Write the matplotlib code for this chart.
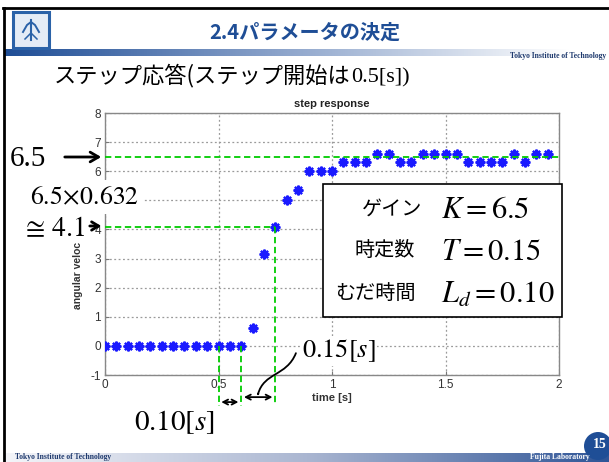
import numpy as np
import matplotlib.pyplot as plt
from matplotlib.colors import LinearSegmentedColormap
from matplotlib.patches import Rectangle, Circle, FancyArrowPatch
from matplotlib.path import Path

plt.rcParams['mathtext.fontset'] = 'stix'
plt.rcParams['axes.unicode_minus'] = False

JP = 'Noto Sans CJK JP'
SERIF = 'Liberation Serif'
SANS = 'Liberation Sans'
NAVY = '#1f4e96'

# measured step response (sampled every 0.05 s)
t_sec = [0.00, 0.05, 0.10, 0.15, 0.20, 0.25, 0.30, 0.35, 0.40, 0.45,
         0.50, 0.55, 0.60, 0.65, 0.70, 0.75, 0.80, 0.85, 0.90, 0.95,
         1.00, 1.05, 1.10, 1.15, 1.20, 1.25, 1.30, 1.35, 1.40, 1.45,
         1.50, 1.55, 1.60, 1.65, 1.70, 1.75, 1.80, 1.85, 1.90, 1.95]
omega = [0.0, 0.0, 0.0, 0.0, 0.0, 0.0, 0.0, 0.0, 0.0, 0.0,
         0.0, 0.0, 0.0, 0.6, 3.15, 4.1, 5.0, 5.35, 6.0, 6.0,
         6.0, 6.3, 6.3, 6.3, 6.6, 6.6, 6.3, 6.3, 6.6, 6.6,
         6.6, 6.6, 6.3, 6.3, 6.3, 6.3, 6.6, 6.3, 6.6, 6.6]

gain_K = 6.5
time_T = 0.15
dead_L = 0.10
step_t = 0.5
y63 = 4.1

x_ticks = [0, 0.5, 1, 1.5, 2]
x_ticklabels = ['0', '0.5', '1', '1.5', '2']
y_ticks = [-1, 0, 1, 2, 3, 4, 5, 6, 7, 8]

W, H = 609, 462
fig = plt.figure(figsize=(W / 100, H / 100), dpi=100)

# slide background, pixel coordinates
bg = fig.add_axes([0, 0, 1, 1], zorder=-1)
bg.axis('off')

bg.plot([3, W], [8, 8], color='black', lw=2)
bg.plot([4, 4], [8, H], color='black', lw=2)

# title / footer gradient bars
grad = np.linspace(0, 1, 256)
top_cmap = LinearSegmentedColormap.from_list('top', [NAVY, '#8fa6cc', 'white'])
bg.imshow(grad[np.newaxis, :], cmap=top_cmap, aspect='auto', extent=(5, 570, 56.5, 50))
bot_cmap = LinearSegmentedColormap.from_list('bot', ['#f4f5f9', '#aab6d1', '#2f5597'])
bg.imshow(grad[np.newaxis, :], cmap=bot_cmap, aspect='auto', extent=(6, W, H, 453))
bg.set_xlim(0, W)
bg.set_ylim(H, 0)

# logo
bg.add_patch(Rectangle((13, 12), 36, 36, facecolor='#e4ecf6', edgecolor='#2a62a8', lw=2.2))
bg.plot([31, 31], [20, 40], color='#2a62a8', lw=1.5)
bg.plot([23, 27, 31, 35, 39], [32, 25, 22, 25, 32], color='#2a62a8', lw=1.4)
bg.plot([25, 31, 37], [39, 33, 39], color='#2a62a8', lw=1.1)

bg.text(305, 32, '2.4パラメータの決定', family=[JP], fontsize=14.5, fontweight='bold',
        color=NAVY, ha='center', va='center')
bg.text(606, 56, 'Tokyo Institute of Technology', family=[SERIF], fontsize=5.5,
        fontweight='bold', color='#1f3a6e', ha='right', va='center')
bg.text(15, 457, 'Tokyo Institute of Technology', family=[SERIF], fontsize=5.5,
        fontweight='bold', color='#1f3a6e', ha='left', va='center')
bg.text(590, 457, 'Fujita Laboratory', family=[SERIF], fontsize=5.5,
        fontweight='bold', color='white', ha='right', va='center')
bg.add_patch(Circle((598, 446), 14, facecolor=NAVY, edgecolor='none'))
bg.text(600, 444, '15', family=[SERIF], fontsize=10, fontweight='bold',
        color='white', ha='center', va='center')

# step response plot
ax = fig.add_axes([105 / W, 87 / H, 454 / W, 262 / H])
ax.plot(t_sec, omega, linestyle='none', marker=(8, 2, 0), markersize=7,
        markeredgewidth=1.6, color='#1a1aff', zorder=3)
ax.set_xlim(0, 2)
ax.set_ylim(-1, 8)
ax.set_xticks(x_ticks)
ax.set_xticklabels(x_ticklabels)
ax.set_yticks(y_ticks)
ax.grid(True, linestyle=(0, (1.5, 2)), color='#9a9a9a', lw=0.9)
ax.tick_params(direction='in', length=3, color='#777777', labelsize=8.5,
               labelcolor='#333333', pad=3)
for lab in ax.get_xticklabels() + ax.get_yticklabels():
    lab.set_family(SANS)
for sp in ax.spines.values():
    sp.set_color('#888888')
    sp.set_linewidth(1.0)
ax.set_title('step response', family=[SANS], fontsize=8, fontweight='bold',
             color='#222222', pad=4)
ax.set_xlabel('time [s]', family=[SANS], fontsize=8, fontweight='bold',
              color='#333333', labelpad=1)

# green reference lines
g = dict(color='#00cc00', linestyle=(0, (3.5, 2)), lw=1.3, clip_on=False, zorder=4)
ax.plot([0, 2], [gain_K, gain_K], **g)
ax.plot([0, step_t + dead_L + time_T], [y63, y63], **g)
ax.plot([step_t + dead_L + time_T] * 2, [y63, -2.0], **g)
ax.plot([step_t, step_t], [0, -2.08], **g)
ax.plot([step_t + dead_L] * 2, [0, -2.08], **g)

# dead time / time constant spans
dbl = dict(arrowstyle='<->,head_length=0.35,head_width=0.18', color='black', lw=1.3)
ax.annotate('', xy=(step_t, -1.93), xytext=(step_t + dead_L, -1.93),
            arrowprops=dbl, annotation_clip=False)
ax.annotate('', xy=(step_t + dead_L, -1.76), xytext=(step_t + dead_L + time_T, -1.76),
            arrowprops=dbl, annotation_clip=False)

curve = Path([(0.841, -0.25), (0.80, -1.05), (0.70, -0.9), (0.672, -1.72)],
             [Path.MOVETO, Path.CURVE4, Path.CURVE4, Path.CURVE4])
ax.add_patch(FancyArrowPatch(path=curve, arrowstyle='->,head_length=0.35,head_width=0.2',
                             color='black', lw=1.3, clip_on=False, zorder=5))

# overlay for annotations in pixel coordinates
ov = fig.add_axes([0, 0, 1, 1], zorder=5)
ov.set_xlim(0, W)
ov.set_ylim(H, 0)
ov.axis('off')
ov.patch.set_alpha(0)

ov.text(78, 252, 'angular velocity [rad/s]', family=[SANS], fontsize=7.5,
        fontweight='bold', color='#333333', rotation=90, ha='center', va='center')

# subtitle: gothic text followed by Times numerals, on a shared baseline
fig.canvas.draw()
renderer = fig.canvas.get_renderer()
x = 54
for s, fam in [('ステップ応答(ステップ開始は', JP), ('0.5[s])', SERIF)]:
    tt = ov.text(x, 82, s, family=[fam], fontsize=16, ha='left', va='baseline', color='black')
    x += tt.get_window_extent(renderer).width

ov.text(10, 159, '6.5', family=[SERIF], fontsize=21, ha='left', va='center')
ov.annotate('', xy=(104, 157), xytext=(62, 157),
            arrowprops=dict(arrowstyle='->,head_length=0.6,head_width=0.35', lw=2, color='black'))
ov.text(30, 197, r'$6.5\!\times\!0.632$', fontsize=18.5, ha='left', va='center',
        bbox=dict(facecolor='white', edgecolor='none', pad=3))
ov.text(21, 228, r'$\cong\,4.1$', fontsize=20, ha='left', va='center',
        bbox=dict(facecolor='white', edgecolor='none', pad=1))
ov.annotate('', xy=(104, 226), xytext=(87, 226),
            arrowprops=dict(arrowstyle='->,head_length=0.5,head_width=0.3', lw=2, color='black'))

ov.text(302, 351, r'$0.15[s]$', fontsize=19, ha='left', va='center',
        bbox=dict(facecolor='white', edgecolor='none', pad=1))
ov.text(134, 422, r'$0.10[s]$', fontsize=21, ha='left', va='center')

# identified parameters
ov.add_patch(Rectangle((323, 184), 239, 133, facecolor='white', edgecolor='black', lw=1.2))
rows = [('ゲイン', r'$K=%.1f$' % gain_K, 209, 362),
        ('時定数', r'$T=%.2f$' % time_T, 251, 354),
        ('むだ時間', r'$L_d=%.2f$' % dead_L, 293, 335)]
for jp, eq, yy, xj in rows:
    ov.text(xj, yy, jp, family=[JP], fontsize=14.5, ha='left', va='center')
    ov.text(441, yy + 1, eq, fontsize=22, ha='left', va='center')

fig.savefig('out.png', dpi=100)
